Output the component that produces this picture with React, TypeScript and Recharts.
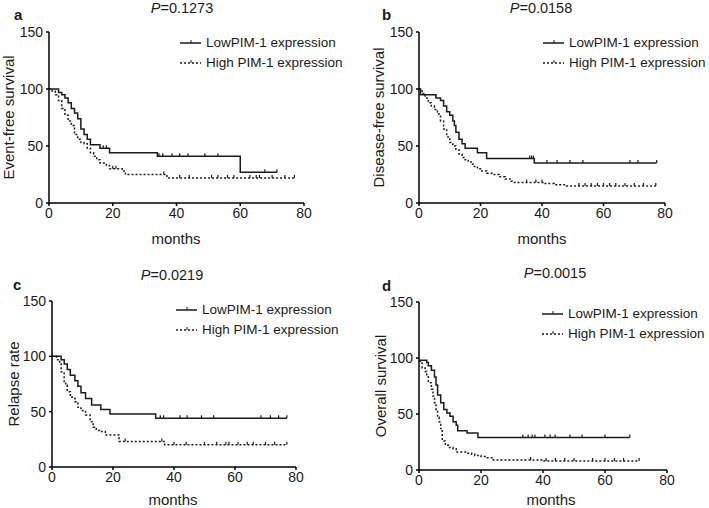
import React from 'react';
import { LineChart, Line, XAxis, YAxis, Legend } from 'recharts';

type Pt = [number, number];

const FONT = '"Liberation Sans", Arial, Helvetica, sans-serif';
const INK = '#1b1b1b';

const MONTH_TICKS = [0, 20, 40, 60, 80];
const SURV_TICKS = [0, 50, 100, 150];
const SERIES_NAMES = ['LowPIM-1 expression', 'High PIM-1 expression'];

// a: event-free survival
const lowA: Pt[] = [[0, 100], [3, 97], [4, 95], [5, 92], [6, 88], [7, 83], [8, 79], [9, 74], [10, 65], [11, 60], [12, 56], [13, 51], [16, 48], [19, 44], [34, 41], [60, 27], [71.5, 27]];
const lowACens = [17, 18, 34.5, 35.7, 38.6, 41, 43.6, 48.9, 53, 67.7, 71.5];
const highA: Pt[] = [[0, 100], [1, 98], [2, 95], [3, 90], [4, 83], [5, 77], [6, 72], [7, 68], [8, 60], [9, 56], [10, 53], [11, 52], [12, 48], [13, 44], [14, 41], [15, 38], [16, 35], [18, 33], [19, 30], [23, 28], [24, 25], [37, 22], [77, 22]];
const highACens = [20, 21, 36, 41, 44, 51, 53, 56, 58, 63, 65, 66, 70, 74, 77];

// b: disease-free survival
const lowB: Pt[] = [[0, 100], [0.5, 95], [5.5, 92], [7, 90], [8, 85], [9, 80], [10, 77], [11, 72], [11.5, 68], [12, 62], [13, 56], [14, 52], [15, 48], [19, 44], [22, 39], [37.5, 35], [77.3, 35]];
const lowBCens = [36, 36.6, 37.2, 41.6, 44.9, 49.1, 53.3, 68.6, 71.2, 77.3];
const highB: Pt[] = [[0, 100], [1, 96], [2, 92], [3, 88], [4, 85], [5, 82], [6, 78], [7, 72], [8, 65], [9, 58], [10, 53], [11, 50], [12, 47], [13, 43], [14, 40], [15, 38], [16, 36], [17, 34], [18, 32], [19, 30], [20, 28], [22, 26], [24, 25], [26, 23], [28, 21], [30, 19], [31, 18], [41, 17], [44, 16], [48, 15], [77, 15]];
const highBCens = [35, 38, 40, 52, 54, 56, 58, 60, 62, 64, 67, 70, 73, 77];

// c: relapse rate
const lowC: Pt[] = [[0, 100], [3, 97], [4, 93], [5, 88], [6, 83], [7.5, 78], [8.5, 73], [9.5, 67], [11, 62], [13, 56], [16, 52], [19, 48], [34, 44], [77, 44]];
const lowCCens = [35.5, 36.6, 42, 44.3, 49, 53, 68.5, 71.6, 74.3, 77];
const highC: Pt[] = [[0, 100], [1.5, 97], [2.5, 94], [3, 86], [4, 77], [4.5, 74], [5, 68], [6, 63], [7.5, 59], [8.5, 54], [9.5, 51], [11, 47], [12.5, 41], [13.5, 36], [14.5, 33], [15.5, 32], [17.5, 29], [22, 23], [37, 20], [77, 20]];
const highCCens = [24, 36, 40, 44, 50, 54, 57, 58, 61, 64, 66, 70, 73, 77];

// d: overall survival
const lowD: Pt[] = [[0, 98], [2.5, 96], [3, 93], [4, 89], [5, 83], [5.5, 76], [6, 67], [7, 60], [8, 54], [9, 51], [10, 48], [11, 43], [12, 40], [12.5, 35], [15.5, 33], [19, 29], [68, 29]];
const lowDCens = [33.5, 35.2, 36.5, 37.4, 40.6, 42.3, 43.9, 48.7, 52.6, 60, 68];
const highD: Pt[] = [[0, 97], [1, 91], [2, 88], [2.5, 84], [3, 78], [4, 72], [4.5, 66], [5, 60], [5.5, 54], [6, 47], [6.5, 43], [7, 37], [7.5, 26], [8.5, 22], [9.5, 20], [11, 19], [12, 16], [15, 15], [17, 14], [18, 13], [20, 12], [22, 11], [24, 9], [40, 8], [71, 8]];
const highDCens = [36, 41, 44, 47, 50, 56, 60, 63, 66, 71];

function buildCurve(steps: Pt[], cens: number[]) {
  const pts = steps.map(([t, s]) => ({ t, s, c: false }));
  cens.forEach((t) => {
    let s = steps[0][1];
    for (const [st, sv] of steps) if (st <= t) s = sv;
    pts.push({ t, s, c: true });
  });
  return pts.sort((a, b) => a.t - b.t || (a.c ? 1 : -1));
}

const Censor = (props: any) => {
  const { cx, cy, payload, index } = props;
  if (!payload || !payload.c) return <g key={`n${index}`} />;
  return (
    <line key={`c${index}`} x1={cx} x2={cx} y1={cy - 3} y2={cy} stroke={INK} strokeWidth={1.2} strokeDasharray="none" />
  );
};

const YLabel = ({ lx, ly, text }: any) => (
  <text x={lx} y={ly} transform={`rotate(-90 ${lx} ${ly})`} textAnchor="middle" dominantBaseline="central"
    fontFamily={FONT} fontSize={15} fill={INK}>{text}</text>
);

const XLabel = ({ lx, ly }: any) => (
  <text x={lx} y={ly} textAnchor="middle" fontFamily={FONT} fontSize={15} fill={INK}>months</text>
);

const legendContent = () => (
  <div style={{ fontFamily: FONT, fontSize: 13.5, color: INK, lineHeight: '20px' }}>
    {SERIES_NAMES.map((name, i) => (
      <div key={name} style={{ display: 'flex', alignItems: 'center', whiteSpace: 'nowrap', height: 20 }}>
        <svg width={26} height={20}>
          <line x1={0} x2={21} y1={10} y2={10} stroke={INK} strokeWidth={1.5} strokeDasharray={i ? '2 2' : undefined} />
          <line x1={11} x2={11} y1={7} y2={10} stroke={INK} strokeWidth={1} />
        </svg>
        <span>{name}</span>
      </div>
    ))}
  </div>
);

const PANELS = [
  {
    letter: 'a', p: '0.1273', ylabel: 'Event-free survival', low: lowA, lowCens: lowACens, high: highA, highCens: highACens,
    left: 0, top: 0, h: 254, margin: { top: 32, right: 50, bottom: 15, left: 9 },
    letterPos: [14, 6], titlePos: [182, 0], yLabelX: 8, xLabel: [176, 244], legendPos: [180, 33],
  },
  {
    letter: 'b', p: '0.0158', ylabel: 'Disease-free survival', low: lowB, lowCens: lowBCens, high: highB, highCens: highBCens,
    left: 355, top: 0, h: 254, margin: { top: 32, right: 44, bottom: 15, left: 24 },
    letterPos: [27, 6], titlePos: [186, 0], yLabelX: 23, xLabel: [187, 244], legendPos: [188, 33],
  },
  {
    letter: 'c', p: '0.0219', ylabel: 'Relapse rate', low: lowC, lowCens: lowCCens, high: highC, highCens: highCCens,
    left: 0, top: 255, h: 253, margin: { top: 46, right: 58, bottom: 5, left: 12 },
    letterPos: [13, 21], titlePos: [172, 12], yLabelX: 13, xLabel: [173, 250], legendPos: [176, 45],
  },
  {
    letter: 'd', p: '0.0015', ylabel: 'Overall survival', low: lowD, lowCens: lowDCens, high: highD, highCens: highDCens,
    left: 355, top: 255, h: 253, margin: { top: 47, right: 42, bottom: 2, left: 24 },
    letterPos: [27, 22], titlePos: [200, 10], yLabelX: 25, xLabel: [196, 250], legendPos: [187, 49],
  },
];

function Panel({ cfg }: { cfg: (typeof PANELS)[number] }) {
  const low = buildCurve(cfg.low, cfg.lowCens);
  const high = buildCurve(cfg.high, cfg.highCens);
  const plotMid = cfg.margin.top + (cfg.h - cfg.margin.top - cfg.margin.bottom - 36) / 2;
  return (
    <div style={{ position: 'absolute', left: cfg.left, top: cfg.top, width: 354, height: cfg.h }}>
      <div style={{ position: 'absolute', left: cfg.letterPos[0], top: cfg.letterPos[1], fontFamily: FONT, fontWeight: 'bold', fontSize: 15, color: INK }}>
        {cfg.letter}
      </div>
      <div style={{ position: 'absolute', left: cfg.titlePos[0] - 60, top: cfg.titlePos[1], width: 120, textAlign: 'center', fontFamily: FONT, fontSize: 14.5, color: INK }}>
        <i>P</i>=<span>{cfg.p}</span>
      </div>
      <LineChart width={354} height={cfg.h} margin={cfg.margin}>
        <XAxis type="number" dataKey="t" domain={[0, 80]} ticks={MONTH_TICKS} allowDataOverflow
          stroke="#000" strokeWidth={1.5} tickSize={3} tickMargin={2} height={36}
          tick={{ fill: INK, fontSize: 14, fontFamily: FONT }}
          label={<XLabel lx={cfg.xLabel[0]} ly={cfg.xLabel[1]} />} />
        <YAxis type="number" domain={[0, 150]} ticks={SURV_TICKS} width={40}
          stroke="#000" strokeWidth={1.5} tickSize={3} tickMargin={3}
          tick={{ fill: INK, fontSize: 14, fontFamily: FONT }}
          label={<YLabel lx={cfg.yLabelX} ly={plotMid} text={cfg.ylabel} />} />
        <Legend layout="horizontal" verticalAlign="middle" align="center" content={legendContent}
          wrapperStyle={{ left: cfg.legendPos[0], top: cfg.legendPos[1], width: 'auto', height: 'auto' }} />
        <Line data={low} dataKey="s" name={SERIES_NAMES[0]} type="stepAfter" stroke={INK} strokeWidth={1.5}
          dot={Censor} activeDot={false} isAnimationActive={false} />
        <Line data={high} dataKey="s" name={SERIES_NAMES[1]} type="stepAfter" stroke={INK} strokeWidth={1.5}
          strokeDasharray="2 2" dot={Censor} activeDot={false} isAnimationActive={false} />
      </LineChart>
    </div>
  );
}

export default function App() {
  return (
    <div style={{ position: 'absolute', left: 0, top: 0, width: 709, height: 508, background: '#fff', overflow: 'hidden' }}>
      {PANELS.map((cfg) => (
        <Panel key={cfg.letter} cfg={cfg} />
      ))}
    </div>
  );
}
